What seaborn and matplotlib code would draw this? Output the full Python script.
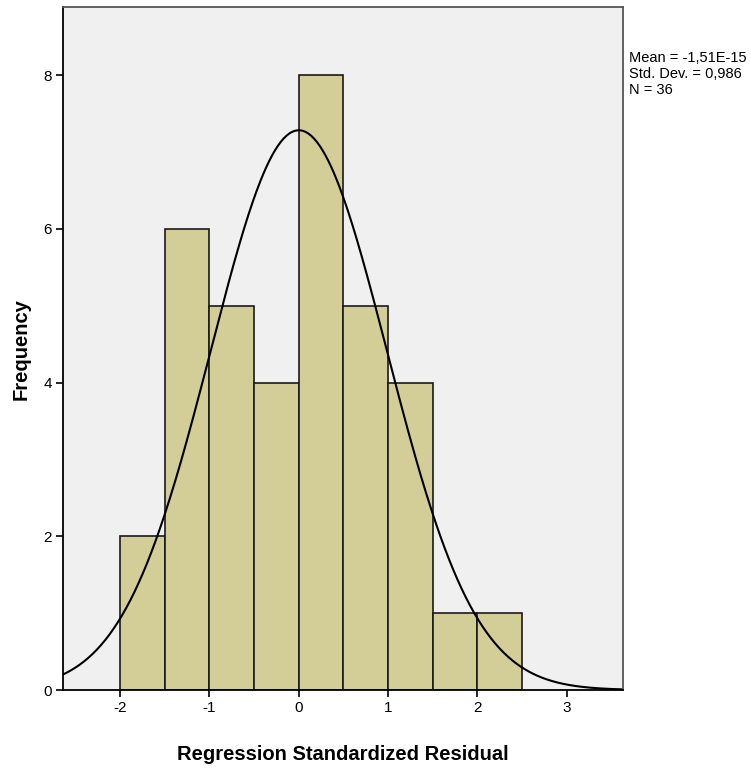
import numpy as np
import pandas as pd
import matplotlib
matplotlib.use("Agg")
import matplotlib.pyplot as plt
import seaborn as sns

# histogram bins (left edges) and counts
bin_left = [-2.0, -1.5, -1.0, -0.5, 0.0, 0.5, 1.0, 1.5, 2.0]
counts = [2, 6, 5, 4, 8, 5, 4, 1, 1]
bin_width = 0.5

# reported statistics
mean_val = -1.51e-15
std_val = 0.986
n_val = 36
stats_text = "Mean = -1,51E-15\nStd. Dev. = 0,986\nN = 36"

x_ticks = [-2, -1, 0, 1, 2, 3]
y_ticks = [0, 2, 4, 6, 8]

sns.set_style("white")
plt.rcParams['font.family'] = ['Liberation Sans', 'DejaVu Sans']
plt.rcParams['text.color'] = 'black'
plt.rcParams['axes.labelcolor'] = 'black'
plt.rcParams['xtick.color'] = 'black'
plt.rcParams['ytick.color'] = 'black'

fig = plt.figure(figsize=(7.51, 7.76), dpi=100)
ax = fig.add_axes([0.0839, 0.1108, 0.7457, 0.880])
ax.set_facecolor("#F0F0F0")

df = pd.DataFrame({
    'center': np.array(bin_left) + bin_width / 2,
    'count': counts
})
edges = list(bin_left) + [bin_left[-1] + bin_width]

sns.histplot(
    data=df,
    x='center',
    weights='count',
    bins=edges,
    color="#D3CE97",
    edgecolor="#1a1a1a",
    linewidth=1.2,
    alpha=1,
    ax=ax
)

# normal curve scaled to the histogram
xs = np.linspace(-2.64, 3.63, 400)
ys = n_val * bin_width * np.exp(-0.5 * ((xs - mean_val) / std_val) ** 2) / (std_val * np.sqrt(2 * np.pi))
sns.lineplot(x=xs, y=ys, color="black", linewidth=1.5, ax=ax)

ax.set_xlim(-2.64, 3.63)
ax.set_ylim(0, 8.885)
ax.set_xticks(x_ticks)
ax.set_xticklabels([str(t) for t in x_ticks])
ax.set_yticks(y_ticks)
ax.set_yticklabels([str(t) for t in y_ticks])
ax.tick_params(axis='both', direction='out', length=5, width=1.2,
               bottom=True, left=True, labelsize=11, pad=3, color='black')

for side in ['left', 'bottom']:
    ax.spines[side].set_color('black')
    ax.spines[side].set_linewidth(1.3)
for side in ['top', 'right']:
    ax.spines[side].set_color('#555555')
    ax.spines[side].set_linewidth(1.3)

ax.set_xlabel("Regression Standardized Residual", fontsize=14.5, fontweight='bold')
ax.set_ylabel("Frequency", fontsize=14.5, fontweight='bold')
ax.xaxis.set_label_coords(0.5, -0.08)
ax.yaxis.set_label_coords(-0.057, 0.5)

fig.text(0.838, 0.934, stats_text, fontsize=10.5, va='top', ha='left',
         linespacing=1.15, family=['Liberation Sans Narrow', 'Liberation Sans', 'DejaVu Sans'])

fig.savefig("out.png", dpi=100)
